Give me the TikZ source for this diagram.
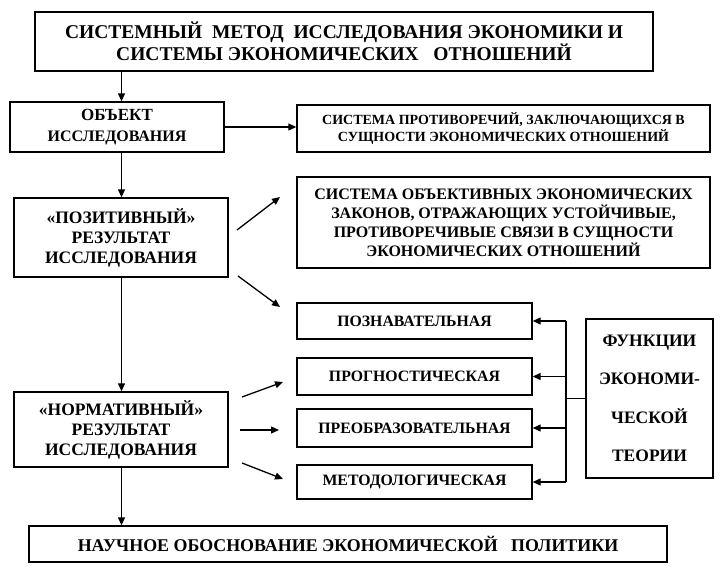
\documentclass[tikz,border=0pt]{standalone}
\usepackage{fontspec}
\setmainfont{Liberation Serif}
\usetikzlibrary{arrows.meta}
\begin{document}
\begin{tikzpicture}[x=1pt,y=-1pt,
  box/.style={draw,line width=1.4pt,inner sep=0pt,align=center},
  arr/.style={line width=1.3pt,-{Triangle[length=8pt,width=7pt]}},
  ln/.style={line width=1.3pt}]
\useasboundingbox (0,0) rectangle (720,567);
\node[box,minimum width=618pt,minimum height=59pt,font=\bfseries\fontsize{19.5}{21.5}\selectfont] (title) at (344,41.5)
  {СИСТЕМНЫЙ\ \ МЕТОД\ \ ИССЛЕДОВАНИЯ ЭКОНОМИКИ И\\ СИСТЕМЫ ЭКОНОМИЧЕСКИХ\ \ \ ОТНОШЕНИЙ};
\node[box,minimum width=214pt,minimum height=50pt,font=\bfseries\fontsize{16}{21}\selectfont] (object) at (117,127)
  {{\fontsize{17}{21}\selectfont ОБЪЕКТ}\\ ИССЛЕДОВАНИЯ};
\node[box,minimum width=413pt,minimum height=47pt,font=\bfseries\fontsize{14}{17}\selectfont] (right1) at (503.5,128.5)
  {СИСТЕМА ПРОТИВОРЕЧИЙ, ЗАКЛЮЧАЮЩИХСЯ В\\ СУЩНОСТИ ЭКОНОМИЧЕСКИХ ОТНОШЕНИЙ};
\node[box,minimum width=214pt,minimum height=79pt,font=\bfseries\fontsize{17.5}{20}\selectfont] (positive) at (121,237.5)
  {«ПОЗИТИВНЫЙ»\\ РЕЗУЛЬТАТ\\ ИССЛЕДОВАНИЯ};
\node[box,minimum width=413pt,minimum height=91pt,font=\bfseries\fontsize{16}{19}\selectfont] (right2) at (503.5,222.5)
  {СИСТЕМА ОБЪЕКТИВНЫХ ЭКОНОМИЧЕСКИХ\\ ЗАКОНОВ, ОТРАЖАЮЩИХ УСТОЙЧИВЫЕ,\\ ПРОТИВОРЕЧИВЫЕ СВЯЗИ В СУЩНОСТИ\\ ЭКОНОМИЧЕСКИХ ОТНОШЕНИЙ};
\node[box,minimum width=235pt,minimum height=36pt,font=\bfseries\fontsize{15.8}{18}\selectfont] (cogn) at (414.5,321)
  {ПОЗНАВАТЕЛЬНАЯ};
\node[box,minimum width=235pt,minimum height=37pt,font=\bfseries\fontsize{15.8}{18}\selectfont] (progn) at (414.5,376.5)
  {ПРОГНОСТИЧЕСКАЯ};
\node[box,minimum width=235pt,minimum height=38pt,font=\bfseries\fontsize{15.8}{18}\selectfont] (transf) at (414.5,428)
  {ПРЕОБРАЗОВАТЕЛЬНАЯ};
\node[box,minimum width=235pt,minimum height=34pt,font=\bfseries\fontsize{15.8}{18}\selectfont] (method) at (414.5,482)
  {МЕТОДОЛОГИЧЕСКАЯ};
\node[box,minimum width=127pt,minimum height=159pt,font=\bfseries\fontsize{17.5}{38.5}\selectfont] (func) at (649.5,398.5)
  {ФУНКЦИИ\\ ЭКОНОМИ-\\ ЧЕСКОЙ\\ ТЕОРИИ};
\node[box,minimum width=214pt,minimum height=75pt,font=\bfseries\fontsize{17.5}{20}\selectfont] (norm) at (121,429.5)
  {«НОРМАТИВНЫЙ»\\ РЕЗУЛЬТАТ\\ ИССЛЕДОВАНИЯ};
\node[box,minimum width=638pt,minimum height=36pt,font=\bfseries\fontsize{17.9}{20}\selectfont] (bottom) at (348,544)
  {НАУЧНОЕ ОБОСНОВАНИЕ ЭКОНОМИЧЕСКОЙ\ \ \ ПОЛИТИКИ};
% helper coordinates
\coordinate (cx) at (121.5,0);
\coordinate (br) at (566,0);
\coordinate (a1s) at (237,230); \coordinate (a1e) at (280,197);
\coordinate (a2s) at (238,276); \coordinate (a2e) at (280,307);
\coordinate (a3s) at (242,397); \coordinate (a3e) at (283,382);
\coordinate (a4s) at (240,430); \coordinate (a4e) at (279,430);
\coordinate (a5s) at (242,463); \coordinate (a5e) at (283,479);
% connectors
\draw[arr] (title.south -| cx) -- (object.north -| cx);
\draw[arr] (object.east) -- (object.east -| right1.west);
\draw[arr] (object.south -| cx) -- (positive.north -| cx);
\draw[arr] (positive.south -| cx) -- (norm.north -| cx);
\draw[arr] (norm.south -| cx) -- (bottom.north -| cx);
\draw[arr] (a1s) -- (a1e);
\draw[arr] (a2s) -- (a2e);
\draw[arr] (a3s) -- (a3e);
\draw[arr] (a4s) -- (a4e);
\draw[arr] (a5s) -- (a5e);
\draw[ln] (br |- cogn.east) -- (br |- method.east);
\draw[ln] (func.west) -- (func.west -| br);
\draw[arr] (br |- cogn.east) -- (cogn.east);
\draw[arr] (br |- progn.east) -- (progn.east);
\draw[arr] (br |- transf.east) -- (transf.east);
\draw[arr] (br |- method.east) -- (method.east);
\end{tikzpicture}
\end{document}
